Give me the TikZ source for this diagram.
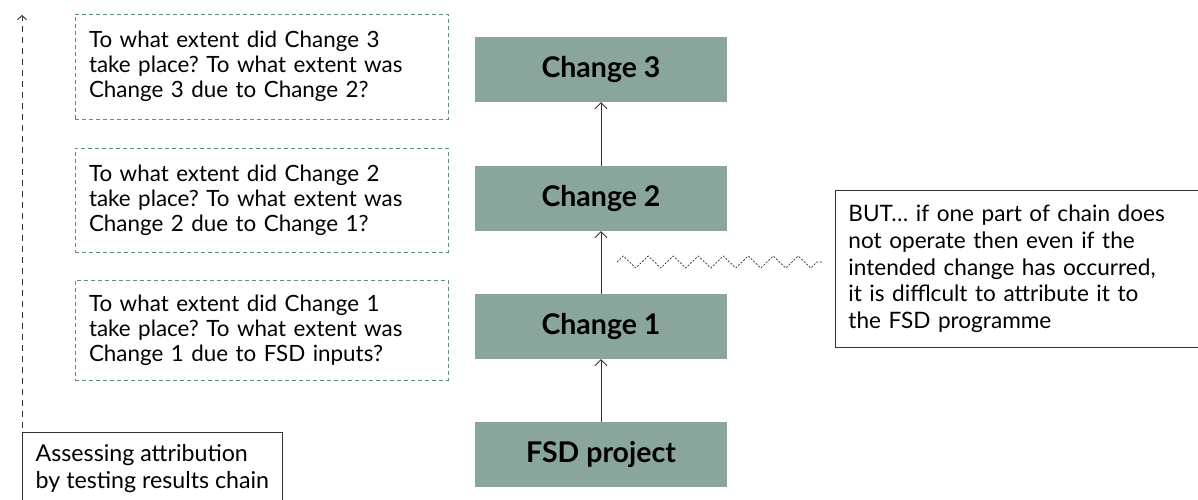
\documentclass[tikz,border=0pt]{standalone}
\usepackage{fontspec}
\setmainfont{Lato}
\usetikzlibrary{arrows.meta,decorations.pathmorphing}
\definecolor{boxfill}{HTML}{8AA59C}
\definecolor{qline}{HTML}{5E9088}
\frenchspacing
\tikzset{
  chainbox/.style={rectangle, fill=boxfill, minimum width=252pt, minimum height=65pt,
    font=\fontsize{28.5}{30}\selectfont\bfseries, inner sep=0pt},
  questionbox/.style={rectangle, draw=qline, dashed, dash pattern=on 4pt off 3pt,
    text width=345pt, inner xsep=14pt, align=left, minimum width=373pt,
    font=\fontsize{22.4}{25}\selectfont},
  notebox/.style={rectangle, draw=black!80, line width=0.8pt, align=left,
    font=\fontsize{22.6}{26.8}\selectfont},
  link/.style={-{Straight Barb[length=6pt,width=12pt]}, draw=black!80, line width=0.9pt},
}
\begin{document}
\begin{tikzpicture}[x=1pt,y=-1pt]
  \useasboundingbox (0,0) rectangle (1198,500);

  % results chain
  \node[chainbox] (c3)  at (601,69.5)  {Change 3};
  \node[chainbox] (c2)  at (601,198.5) {Change 2};
  \node[chainbox] (c1)  at (601,326.5) {Change 1};
  \node[chainbox] (fsd) at (601,454.5) {FSD project};
  \draw[link] (fsd) -- (c1);
  \draw[link] (c1) -- (c2);
  \draw[link] (c2) -- (c3);

  % questions tested at each link
  \node[questionbox, minimum height=105pt] (q3) at (261.5,66.5)
    {To what extent did Change 3\\take place? To what extent was\\Change 3 due to Change 2?};
  \node[questionbox, minimum height=104pt] (q2) at (261.5,200)
    {To what extent did Change 2\\take place? To what extent was\\Change 2 due to Change 1?};
  \node[questionbox, minimum height=100pt] (q1) at (261.5,330)
    {To what extent did Change 1\\take place? To what extent was\\Change 1 due to FSD inputs?};

  % caveat and broken link
  \node[notebox, anchor=north west, minimum width=363pt, minimum height=157pt,
        text width=337pt, inner xsep=13pt] (but) at (835,190)
    {BUT\ldots{} if one part of chain does\\not operate then even if the\\intended change has occurred,\\it is difflcult to attribute it to\\the FSD programme};
  \coordinate (zzstart) at (617,262);
  \coordinate (zzend) at (822,262);
  \draw[black!80, line width=0.7pt, dash pattern=on 2pt off 1.5pt,
        decorate, decoration={zigzag, segment length=25pt, amplitude=6pt}]
    (zzstart) -- (zzend);

  % direction of assessment
  \node[notebox, anchor=north west, minimum width=260pt, minimum height=72pt,
        inner xsep=6pt, inner ysep=7pt,
        font=\fontsize{23.2}{27}\selectfont] (assess) at (22,432)
    {Assessing attribution\\by testing results chain};
  \coordinate (top) at (22,15);
  \draw[black!80, line width=0.9pt, dash pattern=on 6pt off 5pt,
        -{Straight Barb[length=4pt,width=9pt]}] (assess.north west) ++(0,-4) -- (top);
\end{tikzpicture}
\end{document}
